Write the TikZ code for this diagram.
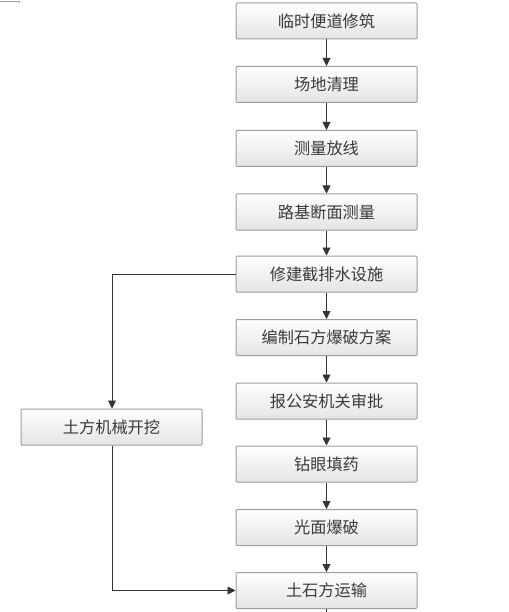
\documentclass[tikz,border=0pt]{standalone}
\usepackage{fontspec}
\newfontfamily\cjk{Noto Sans CJK SC}
\usetikzlibrary{arrows.meta,shadows}
\definecolor{boxline}{HTML}{9C9C9C}
\definecolor{boxtop}{HTML}{FFFFFF}
\definecolor{boxbot}{HTML}{E4E4E4}
\definecolor{txt}{HTML}{3A3A3A}
\definecolor{conn}{HTML}{353535}
\tikzset{
  stepbox/.style={draw=boxline, line width=1pt, rounded corners=1pt,
    top color=boxtop, bottom color=boxbot, minimum width=181pt, minimum height=36pt,
    inner sep=0pt, font=\cjk\fontsize{16.2}{17}\selectfont, text=txt},
  flow/.style={draw=conn, line width=0.9pt, -{Triangle[length=8pt,width=8pt]}},
}
\begin{document}
\begin{tikzpicture}[x=1pt,y=-1pt]
\useasboundingbox (0,0) rectangle (508,612);
\draw[boxline, line width=0.8pt] (0,1) -- (19,1) -- (19,3);
\node[stepbox] (a) at (326.5,21) {临时便道修筑};
\node[stepbox] (b) at (326.5,84.5) {场地清理};
\node[stepbox] (c) at (326.5,148.5) {测量放线};
\node[stepbox] (d) at (326.5,212) {路基断面测量};
\node[stepbox] (e) at (326.5,274) {修建截排水设施};
\node[stepbox] (f) at (326.5,337.5) {编制石方爆破方案};
\node[stepbox] (g) at (326.5,401) {报公安机关审批};
\node[stepbox] (h) at (326.5,464) {钻眼填药};
\node[stepbox] (i) at (326.5,527.5) {光面爆破};
\node[stepbox] (j) at (326.5,590.5) {土石方运输};
\node[stepbox] (k) at (111.5,427) {土方机械开挖};
\coordinate (bend1) at (112,274);
\coordinate (bend2) at (112,590.5);
\coordinate (tail) at (326.5,615);
\draw[flow] (a) -- (b);
\draw[flow] (b) -- (c);
\draw[flow] (c) -- (d);
\draw[flow] (d) -- (e);
\draw[flow] (e) -- (f);
\draw[flow] (f) -- (g);
\draw[flow] (g) -- (h);
\draw[flow] (h) -- (i);
\draw[flow] (i) -- (j);
\draw[flow] (e.west) -- (bend1) -- (k.north -| bend1);
\draw[flow] (k.south -| bend2) -- (bend2) -- (j.west);
\draw[draw=conn, line width=0.9pt] (j.south) -- (tail);
\end{tikzpicture}
\end{document}
